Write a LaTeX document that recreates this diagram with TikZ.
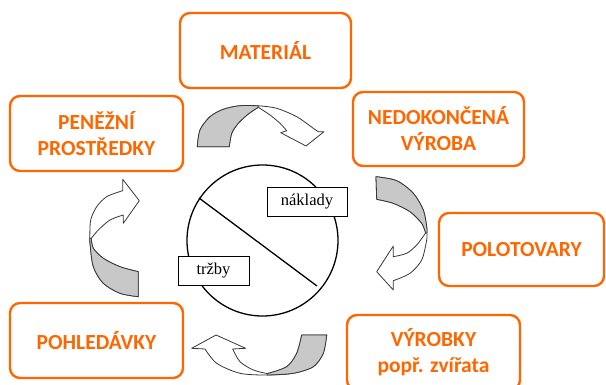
\documentclass[tikz,border=0pt]{standalone}
\usepackage{fontspec}
\setmainfont{Liberation Serif}
\newfontfamily\boxfont{Carlito}
\definecolor{orng}{HTML}{FF6600}
\definecolor{arrfill}{RGB}{200,200,200}
\definecolor{arrline}{RGB}{55,55,55}
\tikzset{
  stagebox/.style={draw=orng, line width=2.4pt, rounded corners=10pt, text=orng,
    font=\boxfont\bfseries\fontsize{21.5}{26}\selectfont, align=center, inner sep=0pt},
  lblbox/.style={draw=black, line width=0.8pt, fill=white,
    font=\fontsize{16.5}{18}\selectfont, inner sep=0pt},
  arrbody/.style={draw=arrline, line width=0.8pt, fill=white, line join=round},
  arrshade/.style={draw=arrline, line width=0.8pt, fill=arrfill, line join=round},
}
\begin{document}
\begin{tikzpicture}[x=1pt,y=-1pt]
\useasboundingbox (0,0) rectangle (606,385);

% stage boxes
\node[stagebox, minimum width=171pt, minimum height=75pt] (mat) at (265.5,50.5) {MATERIÁL};
\node[stagebox, minimum width=171pt, minimum height=74pt] (ned) at (438.5,129) {NEDOKONČENÁ\\VÝROBA};
\node[stagebox, minimum width=173pt, minimum height=75pt] (pen) at (96.5,133.5) {PENĚŽNÍ\\PROSTŘEDKY};
\node[stagebox, minimum width=165pt, minimum height=73pt] (pol) at (521.5,249.5) {POLOTOVARY};
\node[stagebox, minimum width=173pt, minimum height=75pt] (poh) at (96.5,340.5) {POHLEDÁVKY};
\node[stagebox, minimum width=173pt, minimum height=75pt] (vyr) at (433.5,352.5) {VÝROBKY\\popř. zvířata};

% central circle
\node[circle, draw, line width=1.3pt, minimum size=151pt, inner sep=0pt] (cyc) at (262.5,240.5) {};
\coordinate (d1) at (199,198);
\coordinate (d2) at (317,286);
\draw[line width=1.3pt] (d1) -- (d2);
\node[lblbox, minimum width=80pt, minimum height=29pt] (nak) at (307,201.5) {náklady};
\node[lblbox, minimum width=71pt, minimum height=29pt] (trz) at (213.5,270.5) {tržby};

% top arrow
\draw[arrbody] (197.3,146.7) -- plot[smooth] coordinates {(197.3,146.7) (200,130) (210,116.7) (223.3,109.3) (240,105.7) (258.3,105.8) (276.7,108.3) (296.7,116.7) (313.3,128.3) (318.3,131.7)}
  -- (324,131.7) -- (306,146) -- (280.7,132.7) -- (286.7,130.7)
  -- plot[smooth] coordinates {(286.7,130.7) (280,123.3) (270,115) (258.3,107.3)}
  -- plot[smooth] coordinates {(258.3,107.3) (248.3,114) (238.3,123.3) (231.7,133.3) (229.3,146.7)} -- cycle;
\draw[arrshade] (197.3,146.7) -- plot[smooth] coordinates {(197.3,146.7) (200,130) (210,116.7) (223.3,109.3) (240,105.7) (258.3,105.8)}
  -- (258.3,107.3) -- plot[smooth] coordinates {(258.3,107.3) (248.3,114) (238.3,123.3) (231.7,133.3) (229.3,146.7)} -- cycle;

% right arrow
\draw[arrbody] (376,176.7) -- plot[smooth] coordinates {(376,176.7) (396.7,180.7) (413.3,193.3) (423.3,210) (426.7,226.7) (426.9,233) (426.7,240) (421.7,260) (410,273.3) (393.3,280.7)}
  -- (393.3,290) -- (376.7,271.7) -- (393.3,246) -- (393.3,256.7)
  -- plot[smooth] coordinates {(393.3,256.7) (406.7,253.3) (416.7,245) (425.6,233)}
  -- plot[smooth] coordinates {(425.6,233) (421.7,223.3) (410,211.7) (393.3,203.3) (376.7,199.3)} -- cycle;
\draw[arrshade] (376,176.7) -- plot[smooth] coordinates {(376,176.7) (396.7,180.7) (413.3,193.3) (423.3,210) (426.7,226.7) (426.9,233)}
  -- (425.6,233) -- plot[smooth] coordinates {(425.6,233) (421.7,223.3) (410,211.7) (393.3,203.3) (376.7,199.3)} -- cycle;

% bottom arrow
\draw[arrbody] (326.7,335) -- plot[smooth] coordinates {(326.7,335) (323.3,353.3) (313.3,366.7) (293.3,373.3) (267.3,375) (240,373.3) (216.7,363.3) (205,349)}
  -- (191.7,348.3) -- (216,335) -- (245.7,348.3) -- (232.7,349)
  -- plot[smooth] coordinates {(232.7,349) (240,361.7) (253.3,370) (267.3,373.6)}
  -- plot[smooth] coordinates {(267.3,373.6) (286.7,366.7) (296.7,353.3) (301.7,335)} -- cycle;
\draw[arrshade] (326.7,335) -- plot[smooth] coordinates {(326.7,335) (323.3,353.3) (313.3,366.7) (293.3,373.3) (267.3,375)}
  -- (267.3,373.6) -- plot[smooth] coordinates {(267.3,373.6) (286.7,366.7) (296.7,353.3) (301.7,335)} -- cycle;

% left arrow
\draw[arrbody] (138.3,296.7) -- plot[smooth] coordinates {(138.3,296.7) (120,293.3) (103.3,283.3) (93.3,266.7) (90,243.3) (89.8,238) (90.7,220) (96.7,206.7) (106.7,196.7) (122.7,190.7)}
  -- (122.7,179.3) -- (139.3,200.7) -- (123.3,223.3) -- (123.3,215)
  -- plot[smooth] coordinates {(123.3,215) (110,220) (98.3,230) (91.2,238.5)}
  -- plot[smooth] coordinates {(91.2,238.5) (93.3,248.3) (103.3,258.3) (120,266.7) (138.3,271.7)} -- cycle;
\draw[arrshade] (138.3,296.7) -- plot[smooth] coordinates {(138.3,296.7) (120,293.3) (103.3,283.3) (93.3,266.7) (90,243.3) (89.8,238)}
  -- (91.2,238.5) -- plot[smooth] coordinates {(91.2,238.5) (93.3,248.3) (103.3,258.3) (120,266.7) (138.3,271.7)} -- cycle;
\end{tikzpicture}
\end{document}
